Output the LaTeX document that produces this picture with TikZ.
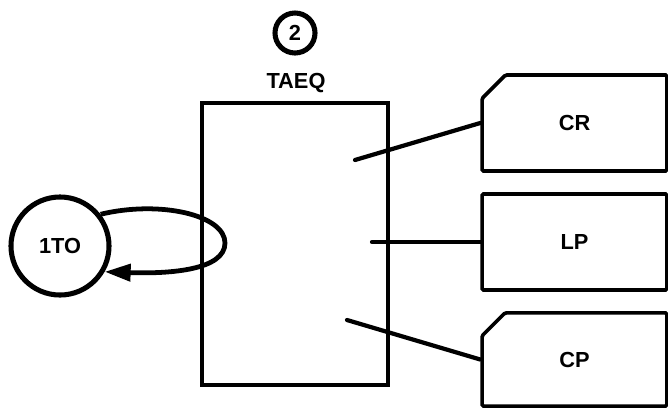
\documentclass[tikz,border=0pt]{standalone}
\usepackage{fontspec}
\setmainfont{Liberation Sans}
\usetikzlibrary{arrows.meta,shapes.misc}

\begin{document}
\begin{tikzpicture}[x=0.025cm, y=-0.025cm,
  lbl/.style={font=\bfseries\fontsize{15.5}{18}\selectfont},
  blk/.style={draw, line width=2.6pt, rounded corners=1pt, minimum width=4.62cm, minimum height=2.4cm, inner sep=0pt, lbl},
  tab/.style={blk, chamfered rectangle, chamfered rectangle corners=north west, chamfered rectangle xsep=0.6cm, chamfered rectangle ysep=0.6cm},
  ring/.style={draw, circle, line width=3.6pt, inner sep=0pt, lbl},
  conn/.style={line width=3pt, line cap=round},
  >={Triangle[length=6.5mm,width=4.2mm]}]
\useasboundingbox (0,0) rectangle (668,408);
% module and its label
\node[ring, minimum size=1cm] (num) at (295,33) {2};
\node[lbl] (name) at (296,83) {TAEQ};
\node[draw, line width=2.6pt, minimum width=4.65cm, minimum height=7.05cm] (taeq) at (295,244) {};
% devices
\node[tab] (cr) at (574.5,123) {CR};
\node[blk] (lp) at (574.5,242) {LP};
\node[tab, minimum height=2.33cm] (cp) at (574.5,359.5) {CP};
\coordinate (cr-in) at (355,160);
\coordinate (lp-in) at (372,242);
\coordinate (cp-in) at (347,320);
\foreach \n in {cr,lp,cp} \draw[conn] (\n-in) -- (\n.west);
% task loop
\node[ring, minimum size=2.45cm] (to) at (60,246) {1TO};
\draw[line width=3.4pt, ->] (to.38) .. controls (160,200) and (225,215) .. (225,243)
  .. controls (225,270) and (170,274) .. (to.-30);
\end{tikzpicture}
\end{document}
